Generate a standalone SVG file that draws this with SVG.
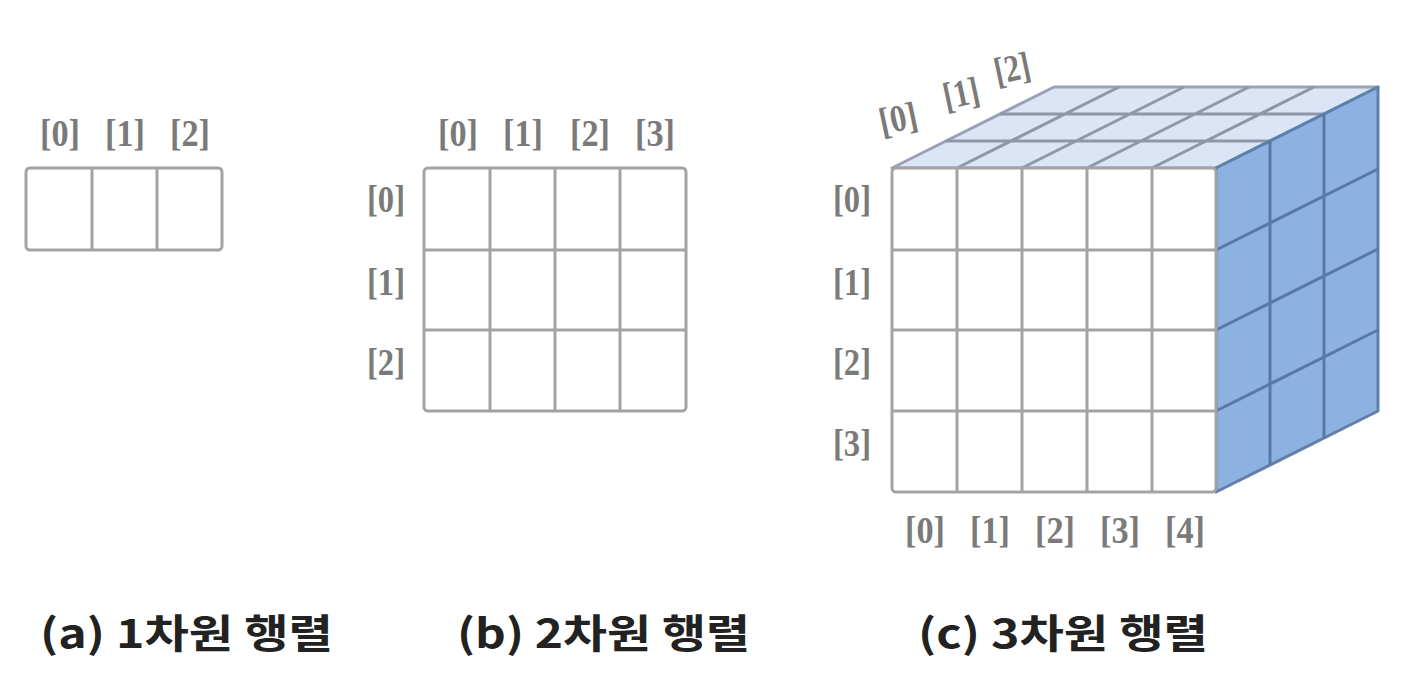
<svg xmlns="http://www.w3.org/2000/svg" width="1422" height="684" viewBox="0 0 1422 684">
<style>
.g{fill:none;stroke:#a3a3a3;stroke-width:3;stroke-linejoin:round}
.gb{fill:#fff;stroke:#a3a3a3;stroke-width:3;rx:4}
.top{fill:#dbe5f6;stroke:#9aa3b3;stroke-width:3;stroke-linejoin:round}
.tl{stroke:#8e97a8;stroke-width:3}
.side{fill:#8db2e2;stroke:#5f7fae;stroke-width:3;stroke-linejoin:round}
.sl{stroke:#5a78a6;stroke-width:3}
.lb{font-family:"Liberation Serif",serif;font-weight:bold;font-size:38px;fill:#7a7a7a;text-anchor:middle}
.cap{font-family:"Noto Sans CJK KR","Noto Sans",sans-serif;font-weight:bold;font-size:40px;fill:#222}
</style>
<rect width="1422" height="684" fill="#fff"/>
<g id="array1d">
<rect class="gb" x="26" y="168" width="196" height="82"/>
<path class="g" d="M92 168V250M157 168V250"/>
<text class="lb" x="60" y="146" textLength="40" lengthAdjust="spacingAndGlyphs">[0]</text>
<text class="lb" x="125" y="146" textLength="40" lengthAdjust="spacingAndGlyphs">[1]</text>
<text class="lb" x="190" y="146" textLength="40" lengthAdjust="spacingAndGlyphs">[2]</text>
</g>
<g id="array2d">
<rect class="gb" x="424" y="168" width="262" height="243"/>
<path class="g" d="M490 168V411M555 168V411M620 168V411M424 250H686M424 330H686"/>
<text class="lb" x="458" y="146" textLength="40" lengthAdjust="spacingAndGlyphs">[0]</text>
<text class="lb" x="523" y="146" textLength="40" lengthAdjust="spacingAndGlyphs">[1]</text>
<text class="lb" x="590" y="146" textLength="40" lengthAdjust="spacingAndGlyphs">[2]</text>
<text class="lb" x="655" y="146" textLength="40" lengthAdjust="spacingAndGlyphs">[3]</text>
<text class="lb" x="386" y="212" textLength="38" lengthAdjust="spacingAndGlyphs">[0]</text>
<text class="lb" x="386" y="295" textLength="38" lengthAdjust="spacingAndGlyphs">[1]</text>
<text class="lb" x="386" y="375" textLength="38" lengthAdjust="spacingAndGlyphs">[2]</text>
</g>
<g id="array3d">
<polygon class="top" points="892,168 1216,168 1378,87 1054,87"/>
<path class="tl" d="M946 141H1270M1000 114H1324M957 168L1119 87M1022 168L1184 87M1087 168L1249 87M1152 168L1314 87"/>
<polygon class="side" points="1216,168 1378,87 1378,411 1216,492"/>
<path class="sl" d="M1270 141V465M1324 114V438M1216 250L1378 169M1216 330L1378 249M1216 411L1378 330"/>
<rect class="gb" x="892" y="168" width="324" height="324" rx="2"/>
<path class="g" d="M957 168V492M1022 168V492M1087 168V492M1152 168V492M892 250H1216M892 330H1216M892 411H1216"/>
<text class="lb" x="852" y="212" textLength="38" lengthAdjust="spacingAndGlyphs">[0]</text>
<text class="lb" x="852" y="295" textLength="38" lengthAdjust="spacingAndGlyphs">[1]</text>
<text class="lb" x="852" y="375" textLength="38" lengthAdjust="spacingAndGlyphs">[2]</text>
<text class="lb" x="852" y="456" textLength="38" lengthAdjust="spacingAndGlyphs">[3]</text>
<text class="lb" x="925" y="543" textLength="40" lengthAdjust="spacingAndGlyphs">[0]</text>
<text class="lb" x="990" y="543" textLength="40" lengthAdjust="spacingAndGlyphs">[1]</text>
<text class="lb" x="1055" y="543" textLength="40" lengthAdjust="spacingAndGlyphs">[2]</text>
<text class="lb" x="1120" y="543" textLength="40" lengthAdjust="spacingAndGlyphs">[3]</text>
<text class="lb" x="1185" y="543" textLength="40" lengthAdjust="spacingAndGlyphs">[4]</text>
<text class="lb" x="898" y="131" textLength="38" lengthAdjust="spacingAndGlyphs" transform="rotate(-12 898 118)">[0]</text>
<text class="lb" x="961" y="106" textLength="36" lengthAdjust="spacingAndGlyphs" transform="rotate(-12 961 93)">[1]</text>
<text class="lb" x="1012" y="81" textLength="36" lengthAdjust="spacingAndGlyphs" transform="rotate(-12 1012 68)">[2]</text>
</g>
<g id="captions">
<text class="cap" x="40" y="648" textLength="293" lengthAdjust="spacingAndGlyphs">(a) 1차원 행렬</text>
<text class="cap" x="457" y="648" textLength="293" lengthAdjust="spacingAndGlyphs">(b) 2차원 행렬</text>
<text class="cap" x="918" y="648" textLength="290" lengthAdjust="spacingAndGlyphs">(c) 3차원 행렬</text>
</g>
</svg>
